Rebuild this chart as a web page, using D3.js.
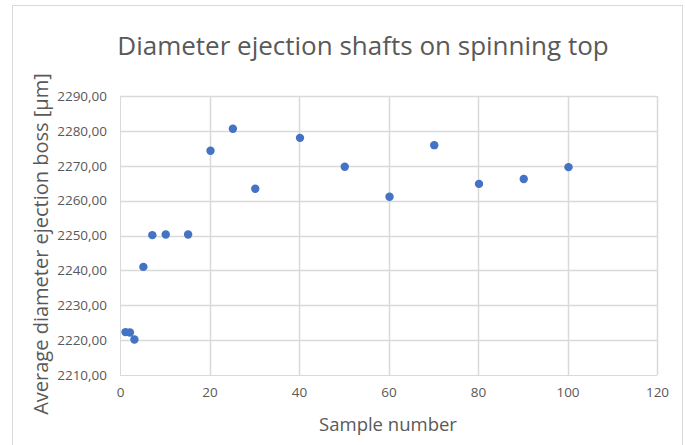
<!DOCTYPE html>
<html>
<head>
<meta charset="utf-8">
<script src="https://cdn.jsdelivr.net/npm/d3@7"></script>
<style>
  body { margin: 0; background: #fff; }
  text { font-family: "Open Sans", sans-serif; fill: #595959; }
</style>
</head>
<body>
<div id="chart"></div>
<script>
var samples = [1, 2, 3, 5, 7, 10, 15, 20, 25, 30, 40, 50, 60, 70, 80, 90, 100];
var diameters = [2222.3, 2222.2, 2220.2, 2241.0, 2250.1, 2250.3, 2250.3, 2274.3, 2280.6, 2263.4,
                 2278.0, 2269.7, 2261.1, 2275.9, 2264.8, 2266.2, 2269.6];
var xTicks = [0, 20, 40, 60, 80, 100, 120];
var yTicks = [2210, 2220, 2230, 2240, 2250, 2260, 2270, 2280, 2290];

var width = 686, height = 445;
var margin = {top: 96, right: 29, bottom: 70, left: 120};

var points = samples.map(function(s, i) { return {x: s, y: diameters[i]}; });

var svg = d3.select("#chart").append("svg")
    .attr("width", width)
    .attr("height", height);

// chart frame
svg.append("rect")
    .attr("x", 12.5).attr("y", 5.5)
    .attr("width", 670).attr("height", 460)
    .attr("fill", "white")
    .attr("stroke", "#d9d9d9");

var x = d3.scaleLinear().domain([0, 120]).range([margin.left, width - margin.right]);
var y = d3.scaleLinear().domain([2210, 2290]).range([height - margin.bottom, margin.top]);

var fmt = function(d) { return d3.format(".2f")(d).replace(".", ","); };

// gridlines
svg.append("g")
  .selectAll("line")
  .data(yTicks)
  .join("line")
    .attr("x1", x(0)).attr("x2", x(120))
    .attr("y1", d => Math.round(y(d)) + 0.5).attr("y2", d => Math.round(y(d)) + 0.5)
    .attr("stroke", "#d9d9d9")
    .attr("stroke-width", d => d === 2210 ? 1 : 1.5);

svg.append("g")
  .selectAll("line")
  .data(xTicks)
  .join("line")
    .attr("y1", y(2210)).attr("y2", y(2290))
    .attr("x1", d => Math.round(x(d)) + 0.5).attr("x2", d => Math.round(x(d)) + 0.5)
    .attr("stroke", "#d9d9d9")
    .attr("stroke-width", d => d === 0 ? 1 : 1.5);

// axes (labels only)
var yAxis = svg.append("g")
    .attr("transform", `translate(${x(0)},0)`)
    .call(d3.axisLeft(y).tickValues(yTicks).tickFormat(fmt).tickSize(0).tickPadding(13));
yAxis.select(".domain").remove();
yAxis.selectAll("text").style("font-size", "13.5px").attr("fill", "#595959");

var xAxis = svg.append("g")
    .attr("transform", `translate(0,${y(2210)})`)
    .call(d3.axisBottom(x).tickValues(xTicks).tickFormat(d3.format("d")).tickSize(0).tickPadding(12));
xAxis.select(".domain").remove();
xAxis.selectAll("text").style("font-size", "13.5px").attr("fill", "#595959");

// points
svg.append("g")
  .selectAll("circle")
  .data(points)
  .join("circle")
    .attr("cx", d => x(d.x) + 1)
    .attr("cy", d => y(d.y))
    .attr("r", 4.2)
    .attr("fill", "#4472C4");

// titles
svg.append("text")
    .attr("x", 363).attr("y", 55)
    .attr("text-anchor", "middle")
    .style("font-size", "26px")
    .text("Diameter ejection shafts on spinning top");

svg.append("text")
    .attr("x", 388).attr("y", 431)
    .attr("text-anchor", "middle")
    .style("font-size", "18.5px")
    .text("Sample number");

svg.append("text")
    .attr("transform", "translate(48,244) rotate(-90)")
    .attr("text-anchor", "middle")
    .style("font-size", "20px")
    .text("Average diameter ejection boss [µm]");
</script>
</body>
</html>
